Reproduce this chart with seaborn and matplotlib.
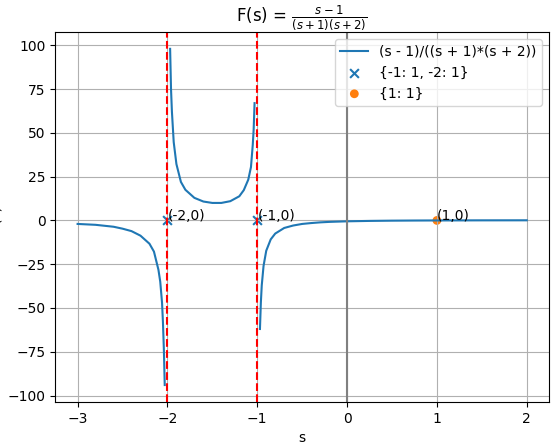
import matplotlib
matplotlib.use("Agg")
import matplotlib.pyplot as plt
import seaborn as sns
import pandas as pd

# curve segments (three branches between the poles)
s_left = [-3.0, -2.8, -2.6, -2.5, -2.4, -2.3, -2.2, -2.15, -2.1, -2.08, -2.06, -2.05, -2.04, -2.03]
f_left = [-2.0, -2.5, -3.6, -4.7, -6.1, -8.7, -13.3, -17.8, -28.2, -35.0, -47.0, -58.1, -73.0, -94.0]
s_mid = [-1.97, -1.96, -1.95, -1.93, -1.9, -1.85, -1.8, -1.7, -1.6, -1.5, -1.4, -1.3, -1.2, -1.15, -1.1, -1.07, -1.05, -1.04, -1.03]
f_mid = [98.0, 75.0, 62.1, 44.7, 32.2, 22.0, 17.5, 12.9, 10.8, 10.0, 10.0, 11.0, 13.8, 17.3, 23.3, 30.5, 43.2, 52.0, 67.0]
s_right = [-0.97, -0.96, -0.95, -0.93, -0.9, -0.85, -0.8, -0.7, -0.6, -0.5, -0.4, -0.3, -0.2, 0.0, 0.25, 0.5, 0.75, 1.0, 1.5, 2.0]
f_right = [-62.0, -47.0, -37.1, -26.0, -17.3, -10.8, -7.5, -4.3, -2.9, -2.0, -1.5, -1.1, -0.83, -0.5, -0.27, -0.13, -0.05, 0.0, 0.057, 0.083]

poles = [-1, -2]
zeros = [1]
label_curve = "(s - 1)/((s + 1)*(s + 2))"
label_poles = "{-1: 1, -2: 1}"
label_zeros = "{1: 1}"

fig, ax = plt.subplots(figsize=(5.57, 4.45), dpi=100)

for i, (xs, ys) in enumerate([(s_left, f_left), (s_mid, f_mid), (s_right, f_right)]):
    df = pd.DataFrame({"s": xs, "F": ys})
    sns.lineplot(data=df, x="s", y="F", ax=ax, color="C0", sort=False,
                 label=label_curve if i == 0 else None)

ax.axvline(0, color="gray")
sns.scatterplot(x=poles, y=[0] * len(poles), marker="x", color="C0", s=40,
                linewidth=1.5, ax=ax, label=label_poles)
sns.scatterplot(x=zeros, y=[0] * len(zeros), marker="o", color="C1", s=40,
                edgecolor="none", ax=ax, label=label_zeros)
for p in poles:
    ax.axvline(p, color="red", linestyle="--")
for p in poles + zeros:
    ax.annotate(f"({p},0)", xy=(p, 0), fontsize=10)

ax.set_title(r"F(s) = $\frac{s-1}{(s+1)(s+2)}$")
ax.set_xlabel("s")
ax.set_ylabel("F(s)")
ax.grid(True)
ax.legend(loc="upper right")
fig.subplots_adjust(left=0.099, right=0.986, top=0.928, bottom=0.097)
plt.savefig("out.png", dpi=100)
